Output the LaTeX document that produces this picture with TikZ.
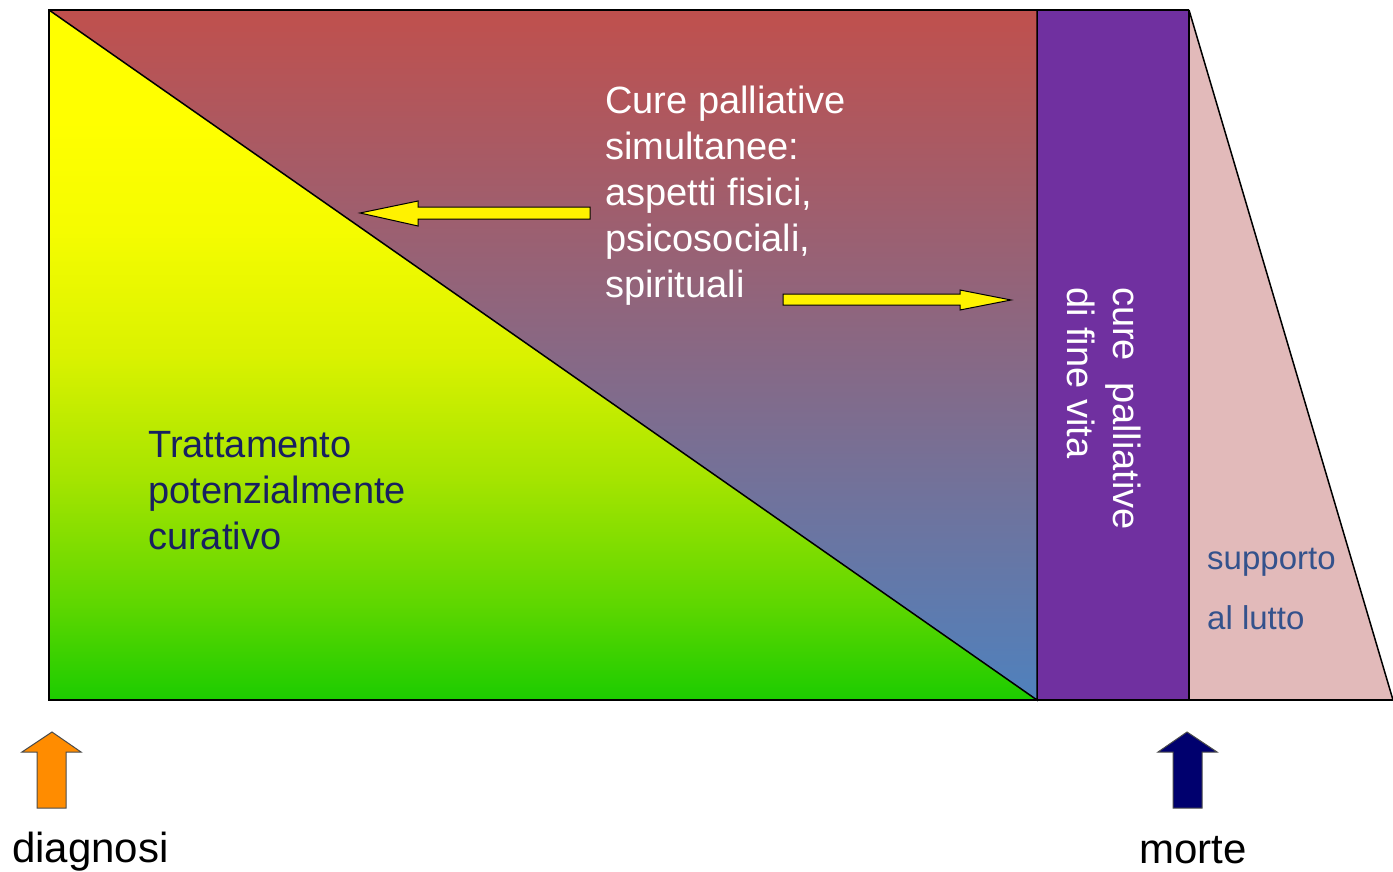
\documentclass[tikz,border=0pt]{standalone}
\usepackage{fontspec}
\setmainfont{Liberation Sans}
\definecolor{curaylw}{RGB}{255,255,0}
\definecolor{curagrn}{RGB}{28,204,0}
\definecolor{pallred}{RGB}{192,80,77}
\definecolor{pallmid}{RGB}{162,97,130}
\definecolor{pallblue}{RGB}{79,129,189}
\definecolor{finevita}{RGB}{112,48,160}
\definecolor{lutto}{RGB}{226,186,186}
\definecolor{navytext}{RGB}{24,32,96}
\definecolor{luttotext}{RGB}{52,82,140}
\definecolor{diagorange}{RGB}{255,140,0}
\definecolor{mortenavy}{RGB}{0,0,110}
% yellow stays longer at the top, green at the bottom
\pgfdeclareverticalshading{curativeshade}{100bp}{
  color(0bp)=(curagrn); color(25bp)=(curagrn);
  color(32bp)=(rgb,255:red,95;green,215;blue,0);
  color(41bp)=(rgb,255:red,165;green,228;blue,0);
  color(50bp)=(rgb,255:red,218;green,242;blue,0);
  color(59bp)=(rgb,255:red,245;green,252;blue,0);
  color(67bp)=(curaylw); color(100bp)=(curaylw)}
\tikzset{
  outline/.style={draw=black, line width=1.5pt},
  yellowarrow/.style={fill=yellow, draw=black, line width=1pt},
  bigtext/.style={inner sep=0, align=left, font=\fontsize{38}{46}\selectfont}
}
\begin{document}
\begin{tikzpicture}[x=1pt,y=-1pt]
      \useasboundingbox (0,0) rectangle (1393,872);

      % corner points of the time line
      \coordinate (d) at (49,10);
      \coordinate (e) at (1037,700);

      \shade[shading=curativeshade] (d) -- (e) -- (49,700) -- cycle;
      \shade[top color=pallred, middle color=pallmid, bottom color=pallblue] (d) -- (1037,10) -- (e) -- cycle;
      \fill[finevita] (1037,10) rectangle (1189,700);
      \fill[lutto] (1189,10) -- (1393,700) -- (1189,700) -- cycle;

      \draw[outline] (1189,10) -- (d) -- (49,700) -- (1393,700);
      \draw[outline] (d) -- (e) -- (1037,10);
      \draw[outline] (1189,10) -- (1189,700);
      \draw[outline] (1189,10) -- (1393,700);

      \draw[yellowarrow] (360,213) -- (418,201) -- (418,207) -- (590,207) -- (590,219) -- (418,219) -- (418,226) -- cycle;
      \draw[yellowarrow] (1011,300) -- (960,290) -- (960,294) -- (783,294) -- (783,305) -- (960,305) -- (960,310) -- cycle;

      \node[bigtext, white, anchor=north west] (simult) at (605,86) {Cure palliative\\simultanee:\\aspetti fisici,\\psicosociali,\\spirituali};
      \node[bigtext, navytext, anchor=north west] (curativo) at (148,431) {Trattamento\\potenzialmente\\curativo};
      \node[bigtext, white, anchor=north west, rotate=-90] (fine) at (1141,287) {cure~ palliative\\di fine vita};
      \node[inner sep=0, align=left, luttotext, anchor=north west, font=\fontsize{33}{60}\selectfont] (supp) at (1207,548) {supporto\\al lutto};

      \filldraw[fill=diagorange, draw=black!70, line width=1pt] (52,732) -- (81,752) -- (66,752) -- (66,808) -- (37,808) -- (37,752) -- (22,752) -- cycle;
      \filldraw[fill=mortenavy, draw=black!70, line width=1pt] (1187,732) -- (1217,752) -- (1202,752) -- (1202,808) -- (1173,808) -- (1173,752) -- (1158,752) -- cycle;

      \node[inner sep=0, anchor=base west, font=\fontsize{42}{50}\selectfont] (diagnosi) at (12,862) {diagnosi};
      \node[inner sep=0, anchor=base west, font=\fontsize{42}{50}\selectfont] (morte) at (1139,863) {morte};
\end{tikzpicture}
\end{document}
